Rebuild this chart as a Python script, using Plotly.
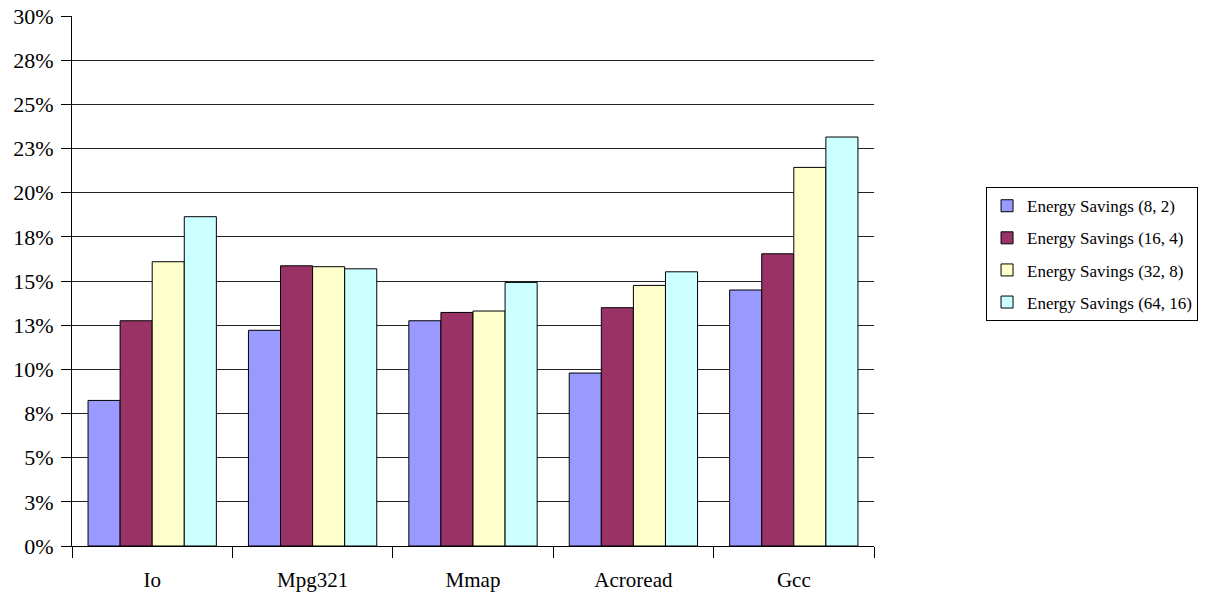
import plotly.graph_objects as go

# Benchmarks and energy savings (percent) for each (cache, block) configuration
benchmarks = ["Io", "Mpg321", "Mmap", "Acroread", "Gcc"]
series_names = [
    "Energy Savings (8, 2)",
    "Energy Savings (16, 4)",
    "Energy Savings (32, 8)",
    "Energy Savings (64, 16)",
]
savings_8_2 = [8.24, 12.21, 12.75, 9.79, 14.49]
savings_16_4 = [12.75, 15.86, 13.22, 13.49, 16.54]
savings_32_8 = [16.09, 15.81, 13.30, 14.75, 21.43]
savings_64_16 = [18.64, 15.69, 14.92, 15.52, 23.15]
series_values = [savings_8_2, savings_16_4, savings_32_8, savings_64_16]
series_colors = ["#9999FF", "#993366", "#FFFFCC", "#CCFFFF"]

# Y axis: a tick every 2.5 %, labels rounded to whole percents
y_tickvals = [0, 2.5, 5, 7.5, 10, 12.5, 15, 17.5, 20, 22.5, 25, 27.5, 30]
y_ticktext = ["0%", "3%", "5%", "8%", "10%", "13%", "15%", "18%", "20%",
              "23%", "25%", "28%", "30%"]

FONT = "Liberation Serif, Times New Roman, serif"

fig = go.Figure()
for name, vals, color in zip(series_names, series_values, series_colors):
    fig.add_trace(go.Bar(
        x=benchmarks,
        y=vals,
        name=name,
        legendgroup=name,
        marker=dict(color=color, line=dict(color="black", width=1)),
    ))

fig.update_layout(
    width=1226,
    height=594,
    margin=dict(l=72, r=352, t=16, b=48, autoexpand=False),
    paper_bgcolor="white",
    plot_bgcolor="white",
    barmode="group",
    bargap=0.2,
    bargroupgap=0,
    font=dict(family=FONT, size=20, color="black"),
    legend=dict(
        x=1.1397,
        y=0.677,
        xanchor="left",
        yanchor="top",
        bordercolor="black",
        borderwidth=1,
        font=dict(family=FONT, size=17, color="black"),
        tracegroupgap=7,
        itemwidth=30,
    ),
    xaxis=dict(
        type="category",
        automargin=False,
        tickson="boundaries",
        ticks="outside",
        ticklen=11,
        tickcolor="black",
        ticklabelstandoff=15,
        showline=True,
        linecolor="black",
        linewidth=1,
        showgrid=False,
        tickfont=dict(family=FONT, size=21, color="black"),
    ),
    yaxis=dict(
        range=[0, 30],
        automargin=False,
        tickmode="array",
        tickvals=y_tickvals,
        ticktext=y_ticktext,
        ticks="outside",
        ticklen=10,
        tickcolor="black",
        ticklabelstandoff=3,
        showline=True,
        linecolor="black",
        linewidth=1,
        showgrid=True,
        gridcolor="#222222",
        gridwidth=1,
        zeroline=False,
        tickfont=dict(family=FONT, size=22, color="black"),
    ),
)

fig.write_html("out.html")
